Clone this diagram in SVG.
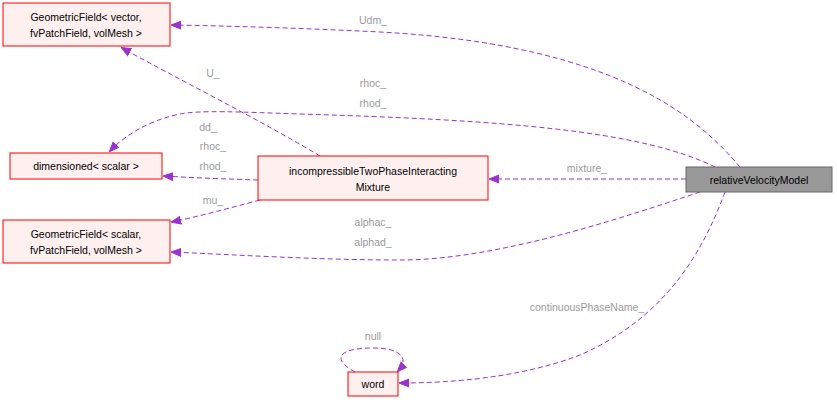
<svg xmlns="http://www.w3.org/2000/svg" width="837" height="403" viewBox="0 0 837 403">
<defs>
<style>
.n{fill:#fff0f0;stroke:#ff0000;stroke-width:1}
.t{font-family:"Liberation Sans",Arial,sans-serif;font-size:10.5px;fill:#000;text-anchor:middle}
.l{font-family:"Liberation Sans",Arial,sans-serif;font-size:10.5px;fill:#9a9a9a;text-anchor:middle}
.e{fill:none;stroke:#9a32cd;stroke-width:1;stroke-dasharray:5,3}
</style>
<marker id="a" viewBox="0 0 10 10" refX="9" refY="5" markerWidth="10" markerHeight="10" markerUnits="userSpaceOnUse" orient="auto"><path d="M0,1 L10,5 L0,9 Z" fill="#9a32cd" stroke="#9a32cd"/></marker>
</defs>
<rect width="837" height="403" fill="#fff"/>
<g id="edges">
<path class="e" marker-end="url(#a)" d="M740,167 C700,120 620,45 380,32 C300,28 230,26 172,25"/>
<path class="e" marker-end="url(#a)" d="M715,167 C640,130 500,120 300,114 C240,112 200,110 180,114 C150,120 125,135 110,151"/>
<path class="e" marker-end="url(#a)" d="M320,156 C260,120 180,80 122,48"/>
<path class="e" marker-end="url(#a)" d="M258,180 C230,179 195,178 164,176"/>
<path class="e" marker-end="url(#a)" d="M260,200 C230,208 200,216 172,222"/>
<path class="e" marker-end="url(#a)" d="M686,179 L490,179"/>
<path class="e" marker-end="url(#a)" d="M700,192 C630,215 500,260 400,260 C320,260 240,255 172,252"/>
<path class="e" marker-end="url(#a)" d="M725,192 C700,260 660,320 580,355 C520,378 450,383 400,383"/>
<path class="e" marker-end="url(#a)" d="M355,372 C330,358 340,348 373,348 C400,348 410,358 398,371"/>
</g>
<g id="labels">
<text class="l" x="373" y="24">Udm_</text>
<text class="l" x="373" y="87">rhoc_</text>
<text class="l" x="373" y="107">rhod_</text>
<text class="l" x="213" y="77">U_</text>
<text class="l" x="208" y="131">dd_</text>
<text class="l" x="213" y="150">rhoc_</text>
<text class="l" x="213" y="170">rhod_</text>
<text class="l" x="213" y="204">mu_</text>
<text class="l" x="587" y="172">mixture_</text>
<text class="l" x="373" y="226">alphac_</text>
<text class="l" x="373" y="246">alphad_</text>
<text class="l" x="587" y="311">continuousPhaseName_</text>
<text class="l" x="373" y="340">null</text>
</g>
<g id="n1"><rect class="n" x="3" y="3" width="167" height="43"/><text class="t" x="86" y="21">GeometricField&lt; vector,</text><text class="t" x="86" y="37">fvPatchField, volMesh &gt;</text></g>
<g id="n2"><rect class="n" x="10" y="153" width="152" height="26"/><text class="t" x="86" y="170">dimensioned&lt; scalar &gt;</text></g>
<g id="n3"><rect class="n" x="258" y="156" width="230" height="44"/><text class="t" x="373" y="175">incompressibleTwoPhaseInteracting</text><text class="t" x="373" y="191">Mixture</text></g>
<g id="n4"><rect class="n" x="3" y="220" width="167" height="43"/><text class="t" x="86" y="238">GeometricField&lt; scalar,</text><text class="t" x="86" y="254">fvPatchField, volMesh &gt;</text></g>
<g id="n5"><rect x="686" y="167" width="146" height="25" fill="#999" stroke="#666"/><text class="t" x="759" y="184">relativeVelocityModel</text></g>
<g id="n6"><rect class="n" x="348" y="372" width="50" height="24"/><text class="t" x="373" y="388">word</text></g>
</svg>
